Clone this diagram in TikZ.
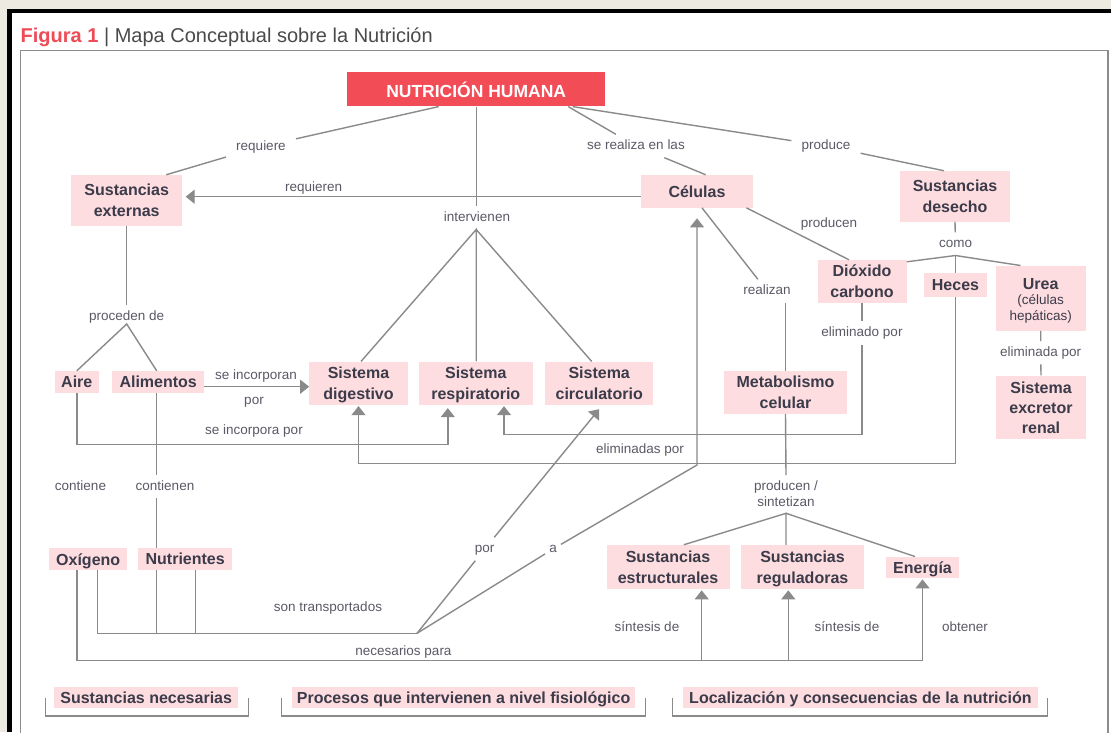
\documentclass[tikz,border=0pt]{standalone}
\usepackage{fontspec}
\setmainfont{Liberation Sans}
\usetikzlibrary{arrows.meta,calc}
\definecolor{bgbeige}{HTML}{EDEBE1}
\definecolor{boxpink}{HTML}{FEDDE0}
\definecolor{nhred}{HTML}{F24D57}
\definecolor{titlered}{HTML}{EF4B57}
\definecolor{boxtext}{HTML}{3B3B4A}
\definecolor{lbltext}{HTML}{5A5A66}
\definecolor{titletext}{HTML}{4A4A4A}
\definecolor{linegray}{HTML}{8A8A8A}
\definecolor{framegray}{HTML}{8C8C8C}
\newcommand{\boxfont}{\bfseries\fontsize{16}{21}\selectfont}
\newcommand{\lblfont}{\fontsize{13.5}{16.6}\selectfont}
\newcommand{\nodep}[1]{\raisebox{0pt}[\height][0pt]{#1}}
\tikzset{
  cbox/.style={fill=boxpink, text=boxtext, font=\boxfont, align=center, inner sep=0pt},
  bx/.style 2 args={minimum width=#1pt, minimum height=#2pt},
  lbl/.style={font=\lblfont, text=lbltext, inner xsep=10pt, inner ysep=8pt, text height=7pt, text depth=0pt},
  lbltwo/.style={font=\lblfont, text=lbltext, align=center, inner sep=0pt},
  ln/.style={draw=linegray, line width=1.4pt},
  arr/.style={ln, -{Triangle[length=9pt,width=14pt]}},
}
\begin{document}
\begin{tikzpicture}[x=1pt,y=-1pt]
\useasboundingbox (0,0) rectangle (1111,732);
% background and frames
\fill[bgbeige] (0,0) rectangle (1111,732);
\fill[black] (7,8.5) rectangle (1111,732);
\fill[white] (12,13) rectangle (1111,732);
\draw[framegray, line width=1.5pt] (20.5,745) -- (20.5,50.7) -- (1107.8,50.7) -- (1107.8,745);
% title
\node[anchor=base west, inner sep=0pt, font=\fontsize{20}{24}\selectfont, text=titletext] (title) at (20.5,42.3)
  {\textcolor{titlered}{\bfseries Figura 1} | Mapa Conceptual sobre la Nutrición};

% concept boxes
\node[cbox, bx={257.5}{34}, fill=nhred, text=white, font=\bfseries\fontsize{17.5}{20}\selectfont] (nh) at (476.2,89.4) {NUTRICIÓN HUMANA};
\node[cbox, bx={110.6}{50.7}] (sext) at (126.7,200.3) {Sustancias\\externas};
\node[cbox, bx={112}{32.7}] (cel) at (697,191.3) {Células};
\node[cbox, bx={110}{50.7}] (desecho) at (955,196.3) {Sustancias\\desecho};
\node[cbox, bx={89}{43}] (dio) at (862,281.5) {Dióxido\\carbono};
\node[cbox, bx={63}{24}] (heces) at (955.5,285) {Heces};
\node[cbox, bx={90}{65}, font=\lblfont] (urea) at (1040.7,298.2) {{\boxfont\rule{0pt}{17pt}Urea}\\[-2pt](células\\hepáticas)};
\node[cbox, bx={90}{63.3}, font=\bfseries\fontsize{16}{20}\selectfont] (renal) at (1041,407.3) {Sistema\\excretor\\renal};
\node[cbox, bx={123}{43}] (meta) at (785.5,392.5) {Metabolismo\\celular};
\node[cbox, bx={43.7}{22}] (aire) at (76.8,382) {Aire};
\node[cbox, bx={91.7}{22}] (ali) at (158.2,382) {Alimentos};
\node[cbox, bx={98.4}{43.3}] (dig) at (358.5,383.3) {Sistema\\\nodep{digestivo}};
\node[cbox, bx={113.7}{43.3}] (resp) at (475.8,383.3) {Sistema\\\nodep{respiratorio}};
\node[cbox, bx={108.3}{43.3}] (circ) at (599.2,383.3) {Sistema\\circulatorio};
\node[cbox, bx={77.7}{21.7}] (oxi) at (88.2,559.2) {\nodep{Oxígeno}};
\node[cbox, bx={94.5}{21.7}] (nut) at (185.2,559.2) {Nutrientes};
\node[cbox, bx={123}{43.7}] (estr) at (668,566.8) {Sustancias\\estructurales};
\node[cbox, bx={123}{43.7}] (reg) at (802.5,566.8) {Sustancias\\\nodep{reguladoras}};
\node[cbox, bx={73}{21}] (ener) at (922.5,567.2) {\nodep{Energía}};
\node[cbox, bx={183.7}{21.6}] (leg1) at (146.2,697.5) {Sustancias necesarias};
\node[cbox, bx={343.6}{21.6}] (leg2) at (463.6,697.5) {\nodep{Procesos que intervienen a nivel fisiológico}};
\node[cbox, bx={354.8}{21.6}] (leg3) at (860.4,697.5) {\nodep{Localización y consecuencias de la nutrición}};

% labels
\node[lbl] (req) at (261,146.7) {requiere};
\node[lbl] (realiza) at (636,146) {se realiza en las};
\node[lbl] (produce) at (826,146) {produce};
\node[lbl] (reqn) at (313.7,188) {requieren};
\node[lbl] (interv) at (477,218) {intervienen};
\node[lbl] (producen) at (829,224) {producen};
\node[lbl] (como) at (955.5,244) {como};
\node[lbl] (realizan) at (767,291) {realizan};
\node[lbl] (elimuno) at (862,333) {eliminado por};
\node[lbl] (elimdos) at (1040.7,352.7) {eliminada por};
\node[lbl] (proc) at (126.7,317) {proceden de};
\node[lbl] (seinc) at (256,376) {se incorporan};
\node[lbl] (poruno) at (254,401) {por};
\node[lbl] (seincdos) at (254,431) {se incorpora por};
\node[lbl] (elims) at (640,450) {eliminadas por};
\node[lbl] (contiene) at (80.5,486.7) {contiene};
\node[lbl] (contienen) at (165,486.7) {contienen};
\node[lbltwo, anchor=north] (prodsint) at (786,480.3) {producen /\\sintetizan};
\node[lbl] (pordos) at (484.7,549) {por};
\node[lbl, inner xsep=4pt] (alab) at (553,549) {a};
\node[lbl] (sontrans) at (328,608) {son transportados};
\node[lbl] (necpara) at (403.5,652) {necesarios para};
\node[lbl] (sintuno) at (647,627.7) {síntesis de};
\node[lbl] (sintdos) at (847,627.7) {síntesis de};
\node[lbl] (obt) at (965,627.7) {obtener};

% helper coordinates
\coordinate (ij) at (476.2,229.5);
\coordinate (cj) at (955.5,255.5);
\coordinate (pj) at (126.7,324);
\coordinate (pst) at (786,475);
\coordinate (psj) at (786,513.3);
\coordinate (tp) at (417,633.3);
\coordinate (vj) at (697,465);
\coordinate (hcorner) at (955.5,463.3);
\coordinate (dcorner) at (862,434.3);
\coordinate (acorner) at (76.8,444.3);
\coordinate (necl) at (77,660.7);

% connectors from NUTRICION HUMANA
\draw[ln] ([xshift=-37.5pt]nh.south) -- (req) -- ([xshift=39.5pt]sext.north);
\draw[ln] ([xshift=92pt]nh.south) -- (realiza) -- ([xshift=8.7pt]cel.north);
\draw[ln] ([xshift=96.5pt]nh.south) -- (produce) -- ([xshift=-11pt]desecho.north);
\draw[ln] (nh.south) -- (nh.south |- interv.north);
\draw[ln] ([xshift=2.5pt]dig.north) -- (ij) -- (resp.north -| ij);
\draw[ln] (ij) -- ([xshift=-7.5pt]circ.north);

% Celulas
\draw[arr] ([yshift=-5.4pt]cel.west) -- ([xshift=3.5pt,yshift=-5.4pt]cel.west -| sext.east);
\draw[ln] ([xshift=49.5pt]cel.south) -- ([xshift=-13pt]dio.north);
\draw[ln] ([xshift=5pt]cel.south) -- (realizan);
\draw[ln] (meta.north) -- (meta.north |- realizan.south);

% Sustancias desecho
\draw[ln] (desecho.south) -- (como);
\draw[ln] ([yshift=-2pt]dio.north east) -- (cj) -- ([xshift=25pt]urea.north west);
\draw[ln] (cj) -- (heces.north);
\draw[arr] (heces.south) -- (hcorner) -| ([yshift=-1pt]dig.south);
\draw[ln] (dio.south) -- (elimuno);
\draw[arr] (elimuno) -- (dcorner) -| ([xshift=28.2pt,yshift=-1pt]resp.south);
\draw[ln] (urea.south) -- (elimdos) -- (renal.north);

% Sustancias externas
\draw[ln] (sext.south) -- (proc);
\draw[ln] (aire.north) -- (pj) -- ([xshift=-1.5pt]ali.north);
\draw[arr] ([yshift=-4.7pt]ali.east) -- ([yshift=-4.7pt]ali.east -| dig.west);
\draw[arr] (aire.south) -- (acorner) -| ([xshift=-28pt,yshift=-3pt]resp.south);

% contienen / nutrientes / oxigeno
\draw[ln] ([xshift=-1.5pt]ali.south) -- ([xshift=-1.5pt]ali.south |- contienen.north);
\draw[ln] ([xshift=-1.5pt]ali.south |- contienen.south) -- ([xshift=-1.5pt]ali.south |- nut.north);
\draw[ln] ([xshift=-1.5pt]ali.south |- nut.south) -- ([xshift=-1.5pt]ali.south |- tp);
\draw[ln] ([xshift=10pt]nut.south) -- ([xshift=10pt]nut.south |- tp);
\draw[ln] ([xshift=9.3pt]oxi.south) |- (tp);
\draw[arr] (tp) -- (pordos) -- ([yshift=-4pt]circ.south);
\draw[arr] (tp) -- (alab) -- (vj) -- ([yshift=-10.5pt]cel.south);

% necesarios para
\draw[arr] ([xshift=-11.2pt]oxi.south) -- (necl) -| ([yshift=-1.5pt]ener.south);
\draw[arr] ([xshift=33.7pt]estr.south |- necl) -- ([xshift=33.7pt,yshift=-1.5pt]estr.south);
\draw[arr] ([xshift=-14.2pt]reg.south |- necl) -- ([xshift=-14.2pt,yshift=-1.5pt]reg.south);

% metabolismo
\draw[ln] (meta.south) -- (pst);
\draw[ln] ([xshift=15.8pt]estr.north) -- (psj) -- ([xshift=-16.5pt]reg.north);
\draw[ln] (psj) -- ([xshift=-7.5pt]ener.north);

% legend brackets
\draw[ln, line width=1.2pt] ([xshift=-8.6pt]leg1.west) -- ++(0,18.5) -| ([xshift=10.2pt]leg1.east);
\draw[ln, line width=1.2pt] ([xshift=-9.8pt]leg2.west) -- ++(0,18.5) -| ([xshift=10.2pt]leg2.east);
\draw[ln, line width=1.2pt] ([xshift=-10pt]leg3.west) -- ++(0,18.5) -| ([xshift=9.2pt]leg3.east);
\end{tikzpicture}
\end{document}
